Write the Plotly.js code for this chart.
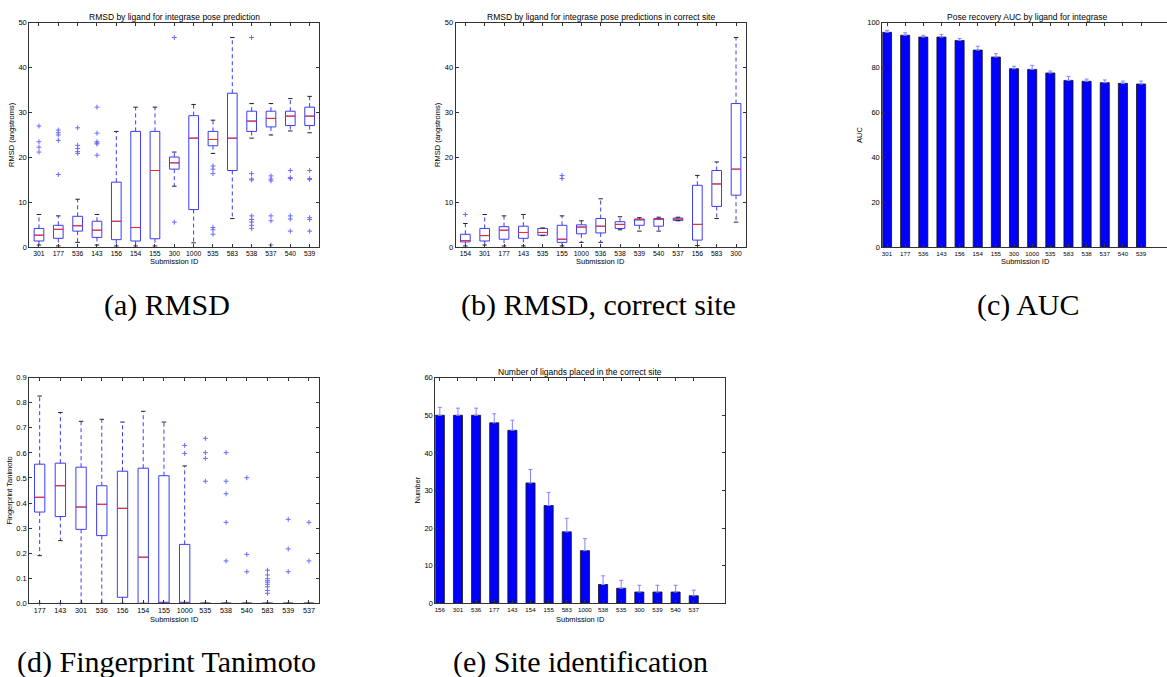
<!DOCTYPE html>
<html><head><meta charset="utf-8">
<script src="https://cdn.plot.ly/plotly-3.0.1.min.js"></script>
<style>html,body{margin:0;padding:0;background:#fff}#chart{width:1167px;height:677px}</style>
</head><body><div id="chart"></div>
<script>
// ---------- Panel (a): RMSD by ligand ----------
const catsA = ['301','177','536','143','156','154','155','300','1000','535','583','538','537','540','539'];
const q1A  = [1.4,2.0,3.6,2.2,1.7,1.4,1.9,17.4,8.4,22.6,17.1,25.8,26.8,27.1,27.1];
const medA = [2.7,4.0,4.8,3.8,5.8,4.4,17.1,18.8,24.3,24.0,24.3,28.1,28.7,29.2,29.2];
const q3A  = [4.2,4.9,6.9,5.8,14.5,25.8,25.8,20.1,29.3,25.8,34.3,30.3,30.3,30.3,31.2];
const loA  = [0.5,0.3,1.1,0.5,0.3,0.3,0.3,13.6,1.0,20.9,6.4,24.3,25.0,25.9,25.5];
const hiA  = [7.3,7.0,10.7,7.3,25.8,31.2,31.2,21.2,31.8,28.3,46.7,32.0,32.0,33.1,33.6];
const outA = [[27.0,23.5,22.3,21.2],[26.1,25.5,25.0,23.8,16.2],[26.6,22.7,22.0,21.3,20.9],[31.2,25.4,23.5,23.2,23.0,20.5],[],[],[],[46.7,5.6],[],[18.1,17.4,16.4,4.4,3.9,2.9],[],[46.7,16.4,15.2,15.0,7.0,6.2,5.6,4.9,4.2],[15.9,15.2,14.8,7.0,5.9,0.5],[17.1,15.5,15.3,7.0,6.3,3.6],[17.1,15.3,15.1,6.6,6.2,3.6]];

// ---------- Panel (b): RMSD, correct site ----------
const catsB = ['154','301','177','143','535','155','1000','536','538','539','540','537','156','583','300'];
const q1B  = [1.2,1.4,1.8,2.0,2.7,1.1,3.0,3.2,4.2,4.9,4.7,6.0,1.6,9.1,11.6];
const medB = [1.5,2.6,3.8,3.3,3.3,1.8,4.5,4.7,5.1,6.2,6.2,6.3,5.1,14.1,17.4];
const q3B  = [2.9,4.2,4.6,4.7,4.2,4.9,5.0,6.4,5.7,6.3,6.4,6.5,13.8,17.1,32.0];
const loB  = [0.3,0.5,0.3,0.3,2.6,0.3,1.1,1.1,3.9,3.6,3.6,5.9,0.4,6.4,5.6];
const hiB  = [5.3,7.3,7.0,7.3,4.3,7.0,5.9,10.8,6.8,6.6,6.7,6.7,16.0,19.0,46.7];
const outB = [[7.3],[],[],[],[],[16.0,15.3],[],[],[],[],[],[],[],[],[]];

// ---------- Panel (c): AUC ----------
const catsC = ['301','177','536','143','156','154','155','300','1000','535','583','538','537','540','539'];
const aucC  = [95.7,94.4,93.6,93.6,92.1,87.8,84.7,79.5,79.2,77.6,74.3,73.9,73.3,73.0,72.7];
const errC  = [0.9,1.1,0.8,1.2,0.9,1.7,1.5,1.1,1.8,0.9,1.8,1.0,1.2,1.0,1.3];

// ---------- Panel (d): Fingerprint Tanimoto ----------
const catsD = ['177','143','301','536','156','154','155','1000','535','538','540','583','539','537'];
const q1D  = [0.364,0.346,0.295,0.270,0.024,0,0,0,0,0,0,0,0,0];
const medD = [0.423,0.469,0.384,0.395,0.379,0.184,0,0,0,0,0,0,0,0];
const q3D  = [0.555,0.559,0.543,0.469,0.527,0.539,0.509,0.235,0,0,0,0,0,0];
const loD  = [0.190,0.250,0,0,0,0,0,0,0,0,0,0,0,0];
const hiD  = [0.827,0.761,0.726,0.734,0.723,0.766,0.723,0.548,0,0,0,0,0,0];
const outD = [[0],[0],[],[],[],[],[],[0.630,0.598],[0.658,0.601,0.578,0.487],[0.601,0.487,0.437,0.323,0.169],[0.501,0.195,0.126],[0.132,0.113,0.098,0.090,0.084,0.076,0.066,0.051,0.040],[0.335,0.217,0.126],[0.323,0.169]];

// ---------- Panel (e): Site identification ----------
const catsE = ['156','301','536','177','143','154','155','583','1000','538','535','300','539','540','537'];
const numE  = [50,50,50,48,46,32,26,19,14,5,4,3,3,3,2];
const errE  = [2.1,1.9,1.9,2.4,2.7,3.6,3.5,3.6,3.2,2.3,2.1,1.8,1.8,1.8,1.5];

const W = 1167, H = 677;
const px = x => x / W, py = y => 1 - y / H;
const BOX = '#3c3cf5', OUT = '#6a6aff', MED = '#ff2a2a', CAP = '#222';
const SANS = 'Liberation Sans, Arial, sans-serif';
const SERIF = 'Liberation Serif, Times New Roman, serif';

function boxTraces(cats, q1, med, q3, lo, hi, out, xa, ya) {
  const t = [];
  t.push({type:'box', x:cats, q1:q1, median:med, q3:q3, lowerfence:q1, upperfence:q3,
    xaxis:xa, yaxis:ya, line:{color:BOX, width:1}, fillcolor:'rgba(0,0,0,0)',
    width:0.5, whiskerwidth:0, boxpoints:false, hoverinfo:'skip'});
  const wx = [], wy = [];
  cats.forEach((c,i) => { wx.push(c,c,null,c,c,null); wy.push(q3[i],hi[i],null,q1[i],lo[i],null); });
  t.push({type:'scatter', mode:'lines', x:wx, y:wy, xaxis:xa, yaxis:ya, connectgaps:false,
    line:{color:BOX, width:1, dash:'4px,3px'}, hoverinfo:'skip'});
  t.push({type:'scatter', mode:'markers', x:cats.concat(cats), y:lo.concat(hi), xaxis:xa, yaxis:ya,
    marker:{symbol:'line-ew', size:3.2, color:CAP, line:{color:CAP, width:1}}, hoverinfo:'skip'});
  t.push({type:'scatter', mode:'markers', x:cats, y:med, xaxis:xa, yaxis:ya,
    marker:{symbol:'line-ew', size:7, color:MED, line:{color:MED, width:1}}, hoverinfo:'skip'});
  const ox = [], oy = [];
  out.forEach((arr,i) => arr.forEach(v => { ox.push(cats[i]); oy.push(v); }));
  t.push({type:'scatter', mode:'markers', x:ox, y:oy, xaxis:xa, yaxis:ya, cliponaxis:false,
    marker:{symbol:'cross-thin-open', size:3.5, color:OUT, line:{color:OUT, width:1}}, hoverinfo:'skip'});
  return t;
}
function barTraces(cats, vals, errs, xa, ya) {
  return [{type:'bar', x:cats, y:vals, xaxis:xa, yaxis:ya, width:0.5,
    marker:{color:'#0000ff', line:{color:'#111', width:0.8}},
    error_y:{type:'data', symmetric:false, array:errs, arrayminus:cats.map(()=>0),
      color:'#8484ff', thickness:1, width:2}, hoverinfo:'skip'}];
}

function xAxis(x0, x1, cats, range, fs, anchor, mirror) {
  return {domain:[px(x0),px(x1)], anchor:anchor, type:'category', categoryorder:'array', categoryarray:cats,
    tickmode:'array', tickvals:cats, ticktext:cats, range:range,
    showline:true, mirror:mirror===undefined?'ticks':mirror, linecolor:'#333', linewidth:1,
    ticks:'inside', ticklen:3, tickcolor:'#333', showgrid:false, zeroline:false,
    tickfont:{family:SANS, size:fs, color:'#000'}, fixedrange:true};
}
function yAxis(y0, y1, range, dtick, fmt, anchor, mirror) {
  return {domain:[py(y1),py(y0)], anchor:anchor, range:range, dtick:dtick, tick0:0, tickformat:fmt,
    showline:true, mirror:mirror===undefined?'ticks':mirror, linecolor:'#333', linewidth:1,
    ticks:'inside', ticklen:3, tickcolor:'#333', showgrid:false, zeroline:false,
    tickfont:{family:SANS, size:7.5, color:'#000'}, fixedrange:true};
}

const data = [].concat(
  boxTraces(catsA,q1A,medA,q3A,loA,hiA,outA,'x','y'),
  boxTraces(catsB,q1B,medB,q3B,loB,hiB,outB,'x2','y2'),
  barTraces(catsC,aucC,errC,'x3','y3'),
  boxTraces(catsD,q1D,medD,q3D,loD,hiD,outD,'x4','y4'),
  barTraces(catsE,numE,errE,'x5','y5')
);

function ann(text, x, y, size, opts) {
  return Object.assign({text:text, x:px(x), y:py(y), xref:'paper', yref:'paper', showarrow:false,
    xanchor:'center', yanchor:'middle', font:{family:SANS, size:size, color:'#000000'}}, opts||{});
}
const CAPF = {family:SERIF, size:30, color:'#000000'};
const annotations = [
  ann('RMSD by ligand for integrase pose prediction', 174.3, 16.5, 8.5),
  ann('RMSD by ligand for integrase pose predictions in correct site', 600.7, 16.5, 8.5),
  ann('Pose recovery AUC by ligand for integrase', 1027, 16.5, 8.5),
  ann('Number of ligands placed in the correct site', 580.3, 372, 8.5),
  ann('RMSD (angstroms)', 12, 135, 7.5, {textangle:-90}),
  ann('RMSD (angstroms)', 438, 135, 7.5, {textangle:-90}),
  ann('AUC', 860, 135, 7.5, {textangle:-90}),
  ann('Fingerprint Tanimoto', 9, 490.5, 7.5, {textangle:-90}),
  ann('Number', 417, 490.5, 7.5, {textangle:-90}),
  ann('Submission ID', 174.3, 261, 7.5),
  ann('Submission ID', 600.7, 261, 7.5),
  ann('Submission ID', 1025, 261, 7.5),
  ann('Submission ID', 174.3, 619, 7.5),
  ann('Submission ID', 580.3, 619, 7.5),
  ann('(a) RMSD', 167, 305, 30, {font:CAPF}),
  ann('(b) RMSD, correct site', 598, 305, 30, {font:CAPF}),
  ann('(c) AUC', 1028, 305, 30, {font:CAPF}),
  ann('(d) Fingerprint Tanimoto', 166, 662, 30, {font:CAPF}),
  ann('(e) Site identification', 580, 662, 30, {font:CAPF})
];

const layout = {
  width:W, height:H, margin:{l:0,r:0,t:0,b:0}, paper_bgcolor:'#fff', plot_bgcolor:'#fff',
  showlegend:false, boxmode:'overlay', barmode:'overlay',
  xaxis:  xAxis(29.3, 319.3, catsA, [-0.5,14.5], 6.8, 'y'),
  yaxis:  yAxis(22.7, 247.3, [0,50], 10, 'd', 'x'),
  xaxis2: xAxis(455.7, 745.7, catsB, [-0.5,14.5], 6.8, 'y2'),
  yaxis2: yAxis(22.7, 247.3, [0,50], 10, 'd', 'x2'),
  xaxis3: xAxis(882.3, 1167, catsC, [-0.26,15.43], 6.2, 'y3'),
  yaxis3: yAxis(22.7, 247.3, [0,100], 20, 'd', 'x3', false),
  xaxis4: xAxis(29.3, 319.3, catsD, [-0.5,13.5], 7.2, 'y4'),
  yaxis4: yAxis(377.7, 603.3, [0,0.9], 0.1, '.1f', 'x4'),
  xaxis5: xAxis(435.3, 725.3, catsE, [-0.25,15.74], 6.2, 'y5'),
  yaxis5: yAxis(377.7, 603.3, [0,60], 10, 'd', 'x5'),
  annotations: annotations
};

Plotly.newPlot('chart', data, layout, {staticPlot:true, displayModeBar:false});
</script></body></html>
